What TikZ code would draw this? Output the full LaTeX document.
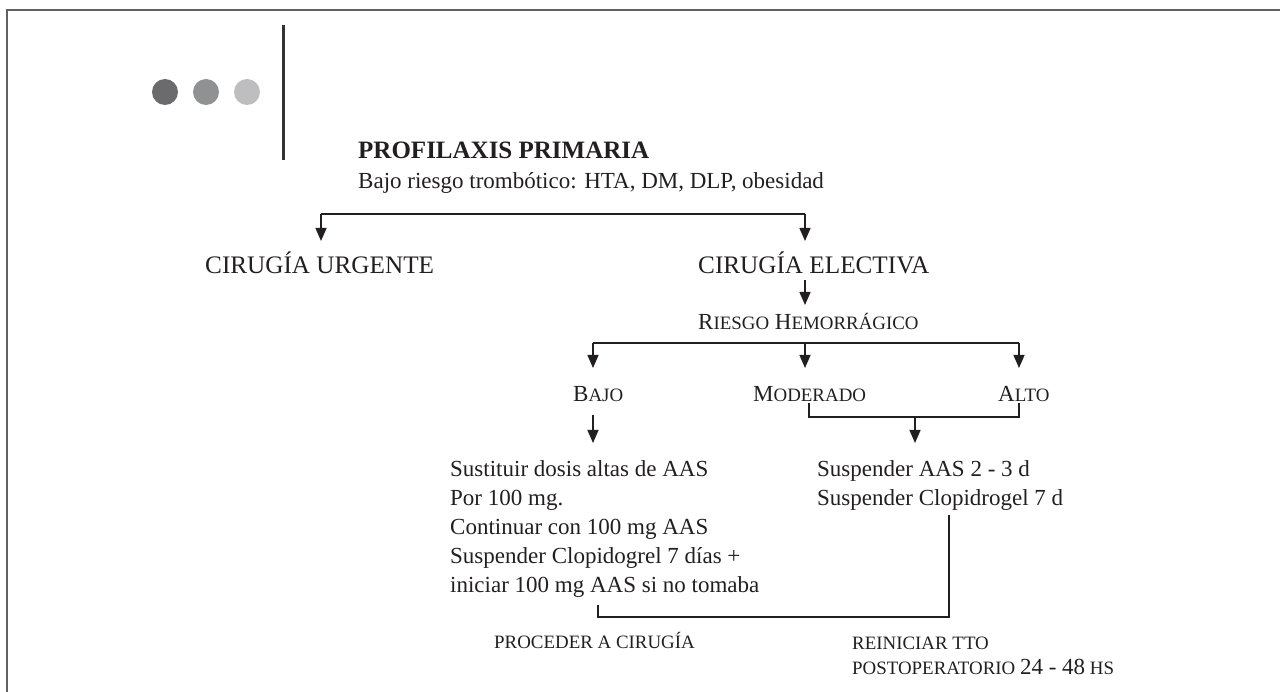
\documentclass[tikz,border=0pt]{standalone}
\usepackage{fontspec}
\setmainfont{Liberation Serif}
\usetikzlibrary{arrows.meta}
\newcommand\scf[1]{{\fontsize{18.9}{24}\selectfont #1}}
\definecolor{ink}{HTML}{231F20}
\definecolor{dotA}{HTML}{6B6B6E}
\definecolor{dotB}{HTML}{909193}
\definecolor{dotC}{HTML}{BEBEC0}
\begin{document}
\begin{tikzpicture}[x=1pt,y=-1pt,
  txt/.style={inner sep=0pt, anchor=base west, text=ink, font=\fontsize{23}{29}\selectfont},
  bigtxt/.style={inner sep=0pt, anchor=base west, text=ink, font=\fontsize{25.2}{30}\selectfont},
  sctxt/.style={inner sep=0pt, anchor=base west, text=ink, font=\fontsize{18.9}{24}\selectfont},
  conn/.style={line width=1.4pt, draw=ink},
  arr/.style={conn, -{Triangle[width=11pt,length=13pt]}},
  frameline/.style={line width=2pt, draw=black!62},
]
\useasboundingbox (0,0) rectangle (1280,692);
% frame
\draw[frameline] (7,692) -- (7,10.5) -- (1280,10.5);
% dots and bar
\fill[dotA] (165,92) circle (13);
\fill[dotB] (206,92) circle (13);
\fill[dotC] (247,92) circle (13);
\draw[line width=3pt, draw=black!80] (283,25) -- (283,160);
% texts
\node[inner sep=0pt, anchor=base west, text=ink, font=\bfseries\fontsize{25}{30}\selectfont] (title) at (358,159) {PROFILAXIS PRIMARIA};
\node[txt] (sub) at (358,189) {Bajo riesgo trombótico: HTA, DM, DLP, obesidad};
\node[bigtxt] (urg) at (205,274) {CIRUGÍA URGENTE};
\node[bigtxt] (ele) at (698,274) {CIRUGÍA ELECTIVA};
\node[txt] (rie) at (698,330) {R\scf{IESGO} H\scf{EMORRÁGICO}};
\node[txt] (bajo) at (573,402) {B\scf{AJO}};
\node[txt] (mod) at (753,402) {M\scf{ODERADO}};
\node[txt] (alto) at (998,402) {A\scf{LTO}};
\node[txt] (l1) at (450,476) {Sustituir dosis altas de AAS};
\node[txt] (l2) at (450,505) {Por 100 mg.};
\node[txt] (l3) at (450,534) {Continuar con 100 mg AAS};
\node[txt] (l4) at (450,563) {Suspender Clopidogrel 7 días +};
\node[txt] (l5) at (450,592) {iniciar 100 mg AAS si no tomaba};
\node[txt] (r1) at (817,476) {Suspender AAS 2 - 3 d};
\node[txt] (r2) at (817,505) {Suspender Clopidrogel 7 d};
\node[sctxt] (proc) at (494,648) {PROCEDER A CIRUGÍA};
\node[sctxt] (rein) at (852,649) {REINICIAR TTO};
\node[sctxt] (post) at (852,674) {POSTOPERATORIO {\fontsize{23}{29}\selectfont 24 - 48} HS};
% connector points
\coordinate (j0L) at (321,214);
\coordinate (j0R) at (805,214);
\coordinate (t0L) at (321,241);
\coordinate (t0R) at (805,241);
\coordinate (e0) at (805,280);
\coordinate (e1) at (805,305);
\coordinate (j1L) at (593,343);
\coordinate (j1M) at (805,343);
\coordinate (j1R) at (1019,343);
\coordinate (t1L) at (593,368);
\coordinate (t1M) at (805,368);
\coordinate (t1R) at (1019,368);
\coordinate (bM) at (809,403);
\coordinate (bA) at (1019,403);
\coordinate (bMid) at (915,417);
\coordinate (bTip) at (915,443);
\coordinate (bjS) at (593,415);
\coordinate (bjT) at (593,443);
\coordinate (lowL) at (598,605);
\coordinate (lowR) at (949,515);
% connectors
\draw[conn] (j0L) -- (j0R);
\draw[arr] (j0L) -- (t0L);
\draw[arr] (j0R) -- (t0R);
\draw[arr] (e0) -- (e1);
\draw[conn] (j1L) -- (j1R);
\draw[arr] (j1L) -- (t1L);
\draw[arr] (j1M) -- (t1M);
\draw[arr] (j1R) -- (t1R);
\draw[conn] (bM) -- (bM |- bMid) -- (bA |- bMid) -- (bA);
\draw[arr] (bMid) -- (bTip);
\draw[arr] (bjS) -- (bjT);
\draw[conn] (lowL) -- (lowL |- 0,617) -- (lowR |- 0,617) -- (lowR);
\end{tikzpicture}
\end{document}
